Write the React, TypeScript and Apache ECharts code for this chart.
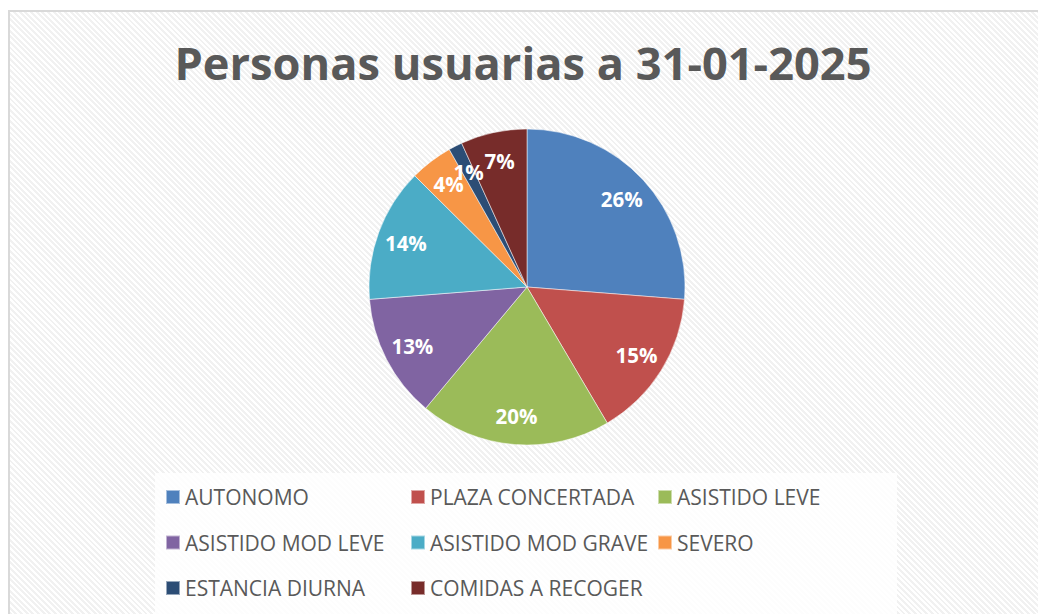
import React, { useEffect, useRef } from "react";
import * as echarts from "echarts";

const categories = [
  "AUTONOMO",
  "PLAZA CONCERTADA",
  "ASISTIDO LEVE",
  "ASISTIDO MOD LEVE",
  "ASISTIDO MOD GRAVE",
  "SEVERO",
  "ESTANCIA DIURNA",
  "COMIDAS A RECOGER",
];
const values = [263, 153, 196, 127, 137, 44, 14, 68];
const colors = ["#4f81bd", "#c0504d", "#9bbb59", "#8064a2", "#4bacc6", "#f79646", "#2c4d75", "#772c2a"];
const legendCol1 = ["AUTONOMO", "ASISTIDO MOD LEVE", "ESTANCIA DIURNA"];
const legendCol2 = ["PLAZA CONCERTADA", "ASISTIDO MOD GRAVE", "COMIDAS A RECOGER"];
const legendCol3 = ["ASISTIDO LEVE", "SEVERO"];
const titleText = "Personas usuarias a 31-01-2025";

export default function App() {
  const ref = useRef<HTMLDivElement>(null);
  useEffect(() => {
    if (!ref.current) return;
    const chart = echarts.init(ref.current, null, { renderer: "svg" });
    const data = categories.map((name, i) => ({ name, value: values[i] }));
    const legendBase = {
      orient: "vertical",
      top: 477,
      padding: 0,
      itemWidth: 14,
      itemHeight: 14,
      itemGap: 21.5,
      icon: "rect",
      selectedMode: false,
      textStyle: { fontFamily: "Open Sans", fontSize: 21, color: "#595959", lineHeight: 24 },
    };
    chart.setOption({
      animation: false,
      color: colors,
      title: {
        text: titleText,
        left: "center",
        top: 27,
        textStyle: { fontFamily: "Open Sans", fontWeight: "bold", fontSize: 45.2, color: "#595959" },
      },
      graphic: [
        { type: "rect", shape: { x: 147, y: 465, width: 742, height: 150 }, style: { fill: "#ffffff", opacity: 0.85 }, z: -1 },
      ],
      legend: [
        { ...legendBase, left: 157, data: legendCol1 },
        { ...legendBase, left: 402, data: legendCol2 },
        { ...legendBase, left: 649, data: legendCol3 },
      ],
      series: [
        {
          type: "pie",
          center: [519, 279],
          radius: [0, 158],
          startAngle: 90,
          clockwise: true,
          data,
          label: { show: false },
          labelLine: { show: false },
          itemStyle: { borderColor: "rgba(255,255,255,0.5)", borderWidth: 1 },
          emphasis: { disabled: true },
          silent: true,
        },
        {
          type: "pie",
          center: [519, 279],
          radius: [94, 158],
          startAngle: 90,
          clockwise: true,
          data,
          itemStyle: { color: "rgba(0,0,0,0)", borderWidth: 0 },
          label: {
            show: true,
            position: "inside",
            formatter: (p: any) => Math.round(p.percent) + "%",
            color: "#ffffff",
            fontFamily: "Open Sans",
            fontWeight: "bold",
            fontSize: 20.5,
            overflow: "none",
          },
          labelLayout: { hideOverlap: false },
          minShowLabelAngle: 0,
          avoidLabelOverlap: false,
          labelLine: { show: false },
          emphasis: { disabled: true },
          silent: true,
          z: 3,
        },
      ],
    });
    return () => chart.dispose();
  }, []);
  return (
    <div style={{ position: "fixed", left: 8, top: 8, width: 1030, height: 606, overflow: "hidden", background: "#ffffff" }}>
      <div
        style={{
          position: "absolute",
          left: 0,
          top: 2,
          width: 1100,
          height: 700,
          border: "2px solid #d9d9d9",
          boxSizing: "border-box",
          background:
            "repeating-linear-gradient(45deg, #ffffff 0px, #ffffff 2px, #f1f1f1 2px, #f1f1f1 4px)",
        }}
      />
      <div ref={ref} style={{ position: "absolute", left: 0, top: 0, width: 1030, height: 606 }} />
    </div>
  );
}
